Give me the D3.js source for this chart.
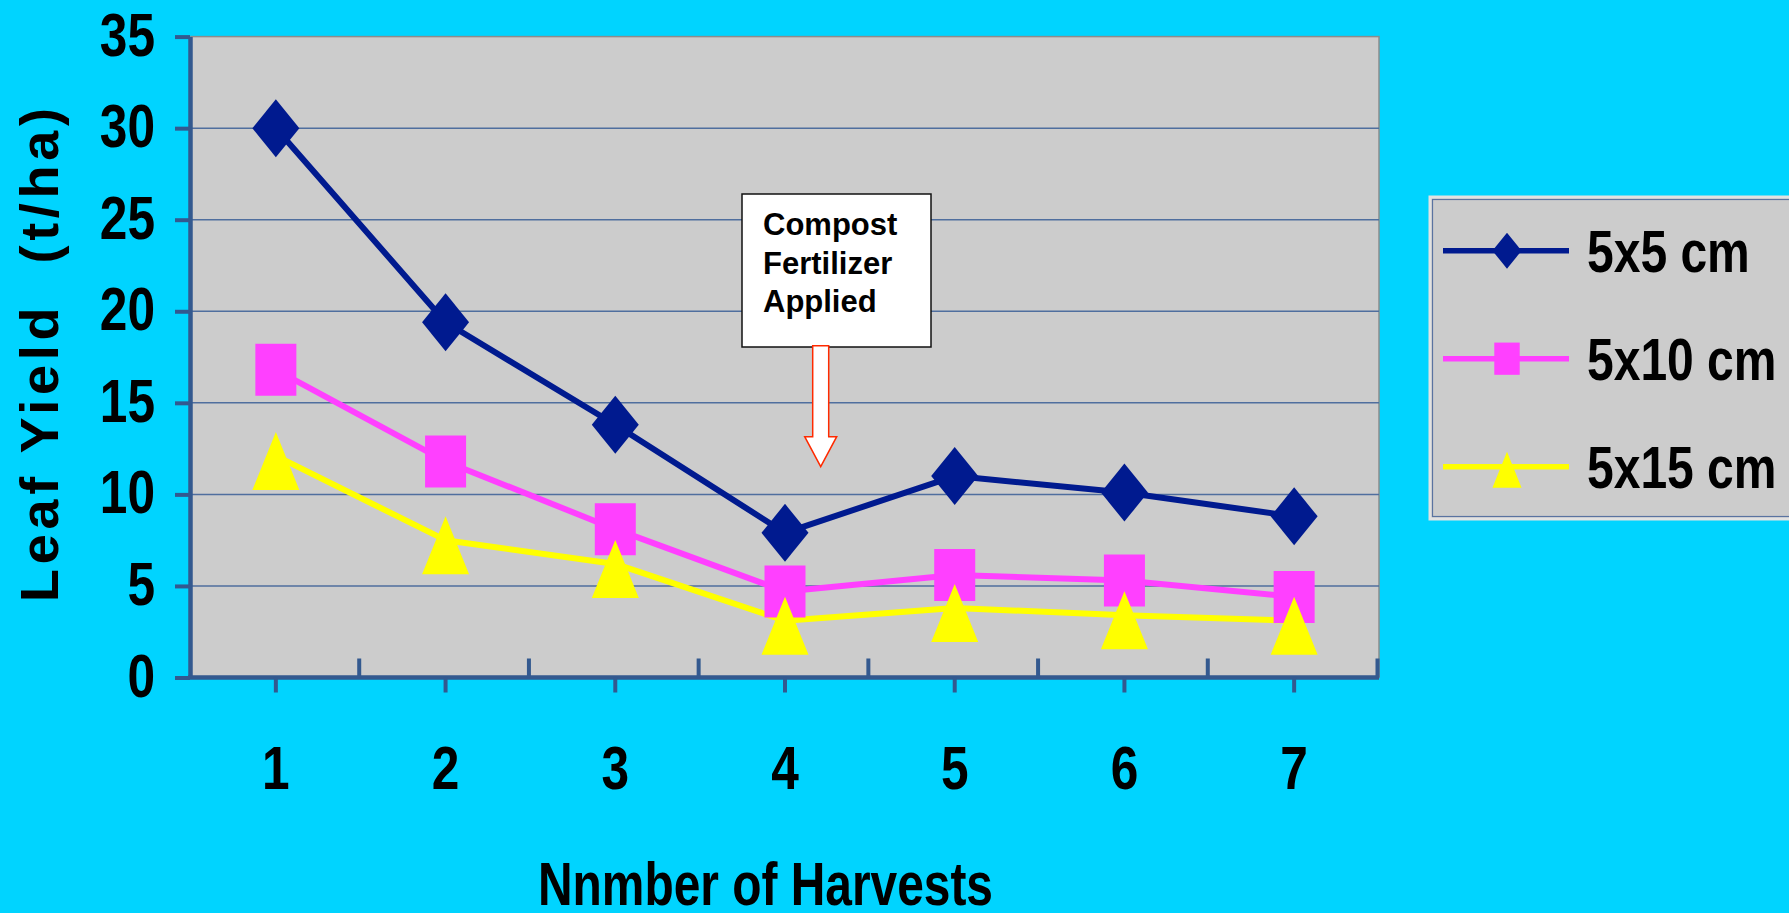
<!DOCTYPE html>
<html>
<head>
<meta charset="utf-8">
<script src="https://cdn.jsdelivr.net/npm/d3@7/dist/d3.min.js"></script>
<style>
  html, body { margin: 0; padding: 0; background: #00D4FF; overflow: hidden; }
  svg { display: block; }
  text { font-family: "Liberation Sans", Arial, sans-serif; font-weight: bold; fill: #000; white-space: pre; }
</style>
</head>
<body>
<script>
// Harvest numbers and leaf yield (t/ha) for three plant spacings
const categories = ["1", "2", "3", "4", "5", "6", "7"];
const yield5x5  = [30.0, 19.4, 13.8, 7.9, 11.0, 10.1, 8.8];
const yield5x10 = [16.8, 11.8, 8.1, 4.7, 5.6, 5.3, 4.4];
const yield5x15 = [12.1, 7.5, 6.2, 3.1, 3.8, 3.4, 3.1];
const seriesNames = ["5x5 cm", "5x10 cm", "5x15 cm"];
const yTicks = [0, 5, 10, 15, 20, 25, 30, 35];
const yTitle = "Leaf Yield  (t/ha)";
const xTitle = "Nnmber of Harvests";
const noteLines = ["Compost", "Fertilizer", "Applied"];

const W = 1789, H = 913;
const plot = { left: 191, right: 1379, top: 36.6, bottom: 677.5 };
const axisColor = "#33598F";
const gridColor = "#4F6E9E";
const condense = 0.8;

const series = [
  { name: seriesNames[0], values: yield5x5,  color: "#001A8F", shape: "diamond" },
  { name: seriesNames[1], values: yield5x10, color: "#FF40FF", shape: "square" },
  { name: seriesNames[2], values: yield5x15, color: "#FFFF00", shape: "triangle" }
];

// marker outlines, centred on the data point
function markerPath(shape, k) {
  if (shape === "diamond") {
    const w = 23.5 * k, h = 29 * k;
    return `M0,${-h}L${w},0L0,${h}L${-w},0Z`;
  }
  if (shape === "square") {
    const w = 20.5 * k, h = 26 * k;
    return `M${-w},${-h}H${w}V${h}H${-w}Z`;
  }
  const w = 23.5 * k, top = 24 * k, bot = 34 * k;
  return `M0,${-top}L${w},${bot}L${-w},${bot}Z`;
}

const svg = d3.select("body").append("svg").attr("width", W).attr("height", H);
svg.append("rect").attr("width", W).attr("height", H).attr("fill", "#00D4FF");

const x = d3.scaleBand().domain(categories).range([plot.left, plot.right]).padding(0);
const cx = c => x(c) + x.bandwidth() / 2;
const y = d3.scaleLinear().domain([0, 35]).range([plot.bottom, plot.top]);

// plot area
svg.append("rect")
  .attr("x", plot.left).attr("y", y(35))
  .attr("width", plot.right - plot.left).attr("height", y(0) - y(35))
  .attr("fill", "#CCCCCC").attr("stroke", "#8C8C8C").attr("stroke-width", 1.5);

// horizontal gridlines
svg.append("g").selectAll("line")
  .data(yTicks.filter(t => t > 0 && t < 35))
  .join("line")
  .attr("x1", plot.left).attr("x2", plot.right)
  .attr("y1", d => y(d)).attr("y2", d => y(d))
  .attr("stroke", gridColor).attr("stroke-width", 1.5);

// y axis
const yAxisG = svg.append("g").attr("transform", `translate(${plot.left - 1},0)`)
  .call(d3.axisLeft(y).tickValues(yTicks).tickSize(15).tickSizeOuter(0).tickFormat(d3.format("d")));
yAxisG.select(".domain").attr("stroke", axisColor).attr("stroke-width", 4.5);
yAxisG.selectAll(".tick line").attr("stroke", axisColor).attr("stroke-width", 4);
yAxisG.selectAll(".tick text")
  .attr("font-size", 62).attr("text-anchor", "end")
  .attr("x", -35 / condense).attr("y", 18.5).attr("dy", 0)
  .attr("transform", `scale(${condense},1)`);

// x axis: ticks under each harvest
const xAxisG = svg.append("g").attr("transform", `translate(0,${plot.bottom})`)
  .call(d3.axisBottom(x).tickSize(15).tickSizeOuter(0));
xAxisG.select(".domain").attr("stroke", axisColor).attr("stroke-width", 4.5)
  .attr("d", `M${plot.left - 3},0H${plot.right}`);
xAxisG.selectAll(".tick line").attr("stroke", axisColor).attr("stroke-width", 4);
xAxisG.selectAll(".tick text")
  .attr("font-size", 62).attr("text-anchor", "middle")
  .attr("x", 0).attr("y", 111.5).attr("dy", 0)
  .attr("transform", `scale(${condense},1)`);

// upward marks between harvests
const step = x.step();
svg.append("g").selectAll("line")
  .data(d3.range(1, categories.length + 1))
  .join("line")
  .attr("x1", i => plot.left + step * i - 1.5)
  .attr("x2", i => plot.left + step * i - 1.5)
  .attr("y1", y(0)).attr("y2", y(0) - 19)
  .attr("stroke", axisColor).attr("stroke-width", 4);

// series lines
const line = d3.line().x((d, i) => cx(categories[i])).y(d => y(d));
svg.append("g").selectAll("path")
  .data(series).join("path")
  .attr("d", s => line(s.values))
  .attr("fill", "none").attr("stroke", s => s.color)
  .attr("stroke-width", 6).attr("stroke-linejoin", "round");

// series markers, drawn after all lines
series.forEach(s => {
  svg.append("g").selectAll("path")
    .data(s.values).join("path")
    .attr("transform", (d, i) => `translate(${cx(categories[i])},${y(d)})`)
    .attr("d", markerPath(s.shape, 1))
    .attr("fill", s.color);
});

// annotation box with arrow
const note = { x: 742, y: 194, w: 189, h: 153 };
svg.append("rect")
  .attr("x", note.x).attr("y", note.y).attr("width", note.w).attr("height", note.h)
  .attr("fill", "#FFFFFF").attr("stroke", "#111").attr("stroke-width", 1.5);
svg.append("g").selectAll("text")
  .data(noteLines).join("text")
  .attr("x", note.x + 21).attr("y", (d, i) => note.y + 41 + i * 38.5)
  .attr("font-size", 31).text(d => d);
const ar = { cx: 820.7, top: 345.7, shaft: 8, neck: 436.7, head: 16, tip: 466.7 };
svg.append("path")
  .attr("d", `M${ar.cx - ar.shaft},${ar.top}H${ar.cx + ar.shaft}V${ar.neck}H${ar.cx + ar.head}` +
             `L${ar.cx},${ar.tip}L${ar.cx - ar.head},${ar.neck}H${ar.cx - ar.shaft}Z`)
  .attr("fill", "#FFFFFF").attr("stroke", "#FF2A00").attr("stroke-width", 1.5);

// legend
const lg = { x: 1430, y: 197, w: 400, h: 322 };
svg.append("rect").attr("x", lg.x).attr("y", lg.y).attr("width", lg.w).attr("height", lg.h)
  .attr("fill", "#CCCCCC").attr("stroke", "#E2E2E2").attr("stroke-width", 3);
svg.append("rect").attr("x", lg.x + 2.5).attr("y", lg.y + 2.5).attr("width", lg.w).attr("height", lg.h - 5)
  .attr("fill", "none").attr("stroke", "#5A73A0").attr("stroke-width", 1.2);
const legendY = d3.scalePoint().domain(seriesNames).range([250.7, 466.7]);
const items = svg.append("g").selectAll("g").data(series).join("g")
  .attr("transform", s => `translate(0,${legendY(s.name)})`);
items.append("line")
  .attr("x1", 1443).attr("x2", 1569).attr("y1", 0).attr("y2", 0)
  .attr("stroke", s => s.color).attr("stroke-width", 5.5);
items.append("path")
  .attr("transform", "translate(1507,0)")
  .attr("d", s => markerPath(s.shape, 0.62))
  .attr("fill", s => s.color);
items.append("text")
  .attr("transform", `scale(${condense},1)`)
  .attr("x", 1587 / condense).attr("y", 21)
  .attr("font-size", 60).text(s => s.name);

// axis titles
svg.append("text")
  .attr("transform", "translate(58,602) rotate(-90)")
  .attr("font-size", 54)
  .attr("textLength", 494).attr("lengthAdjust", "spacing")
  .text(yTitle);
svg.append("text")
  .attr("x", 538).attr("y", 905)
  .attr("font-size", 61)
  .attr("textLength", 455).attr("lengthAdjust", "spacingAndGlyphs")
  .text(xTitle);
</script>
</body>
</html>
